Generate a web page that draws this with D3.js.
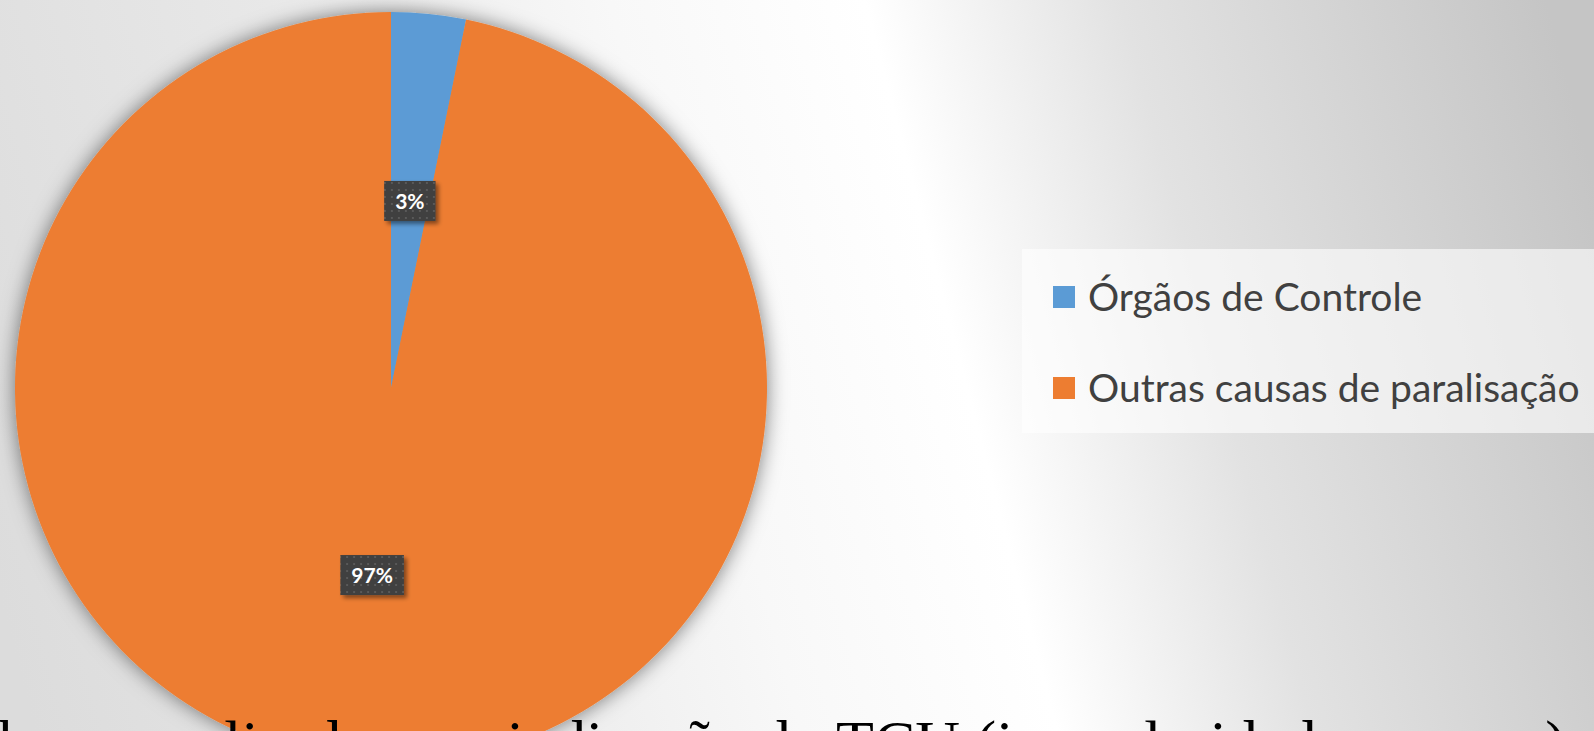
<!DOCTYPE html>
<html lang="pt">
<head>
    <meta charset="UTF-8">
    <script src="https://d3js.org/d3.v7.min.js"></script>
    <style>
        body { margin: 0; overflow: hidden; }
        svg { display: block; }
        .legenda { font-family: Lato, "Open Sans", sans-serif; fill: #404040; }
        .rotulo { font-family: Lato, "Open Sans", sans-serif; font-weight: bold; fill: #ffffff; }
        .titulo { font-family: "Liberation Serif", "DejaVu Serif", serif; fill: #000; }
    </style>
</head>
<body>
    <svg id="chart" width="1594" height="731"></svg>

    <script>
        // dados
        const categorias = ["Órgãos de Controle", "Outras causas de paralisação"];
        const valores = [3.2, 96.8];
        const cores = ["#5B9BD5", "#ED7D31"];
        const titulo = "Obras paralisadas por indicação do TCU (irregularidades graves)";

        const W = 1594, H = 731;
        const cx = 391, cy = 388, raio = 376;

        const svg = d3.select("#chart");
        const defs = svg.append("defs");

        // fundo em degradê
        const grad = defs.append("linearGradient")
            .attr("id", "fundo")
            .attr("gradientUnits", "userSpaceOnUse")
            .attr("x1", 0).attr("y1", 600)
            .attr("x2", W).attr("y2", 180);
        [[0, "#dcdcdc"], [0.25, "#e8e8e8"], [0.45, "#f8f8f8"], [0.6, "#ffffff"], [0.75, "#e2e2e2"], [1, "#c5c5c5"]]
            .forEach(([o, c]) => grad.append("stop").attr("offset", o).attr("stop-color", c));

        svg.append("rect").attr("width", W).attr("height", H).attr("fill", "url(#fundo)");

        // sombras
        const sombraPizza = defs.append("filter").attr("id", "sombraPizza")
            .attr("x", "-10%").attr("y", "-10%").attr("width", "120%").attr("height", "120%");
        sombraPizza.append("feDropShadow")
            .attr("dx", 0).attr("dy", 0).attr("stdDeviation", 10)
            .attr("flood-color", "#000").attr("flood-opacity", 0.5);

        const sombraRotulo = defs.append("filter").attr("id", "sombraRotulo")
            .attr("x", "-20%").attr("y", "-20%").attr("width", "150%").attr("height", "150%");
        sombraRotulo.append("feDropShadow")
            .attr("dx", 3).attr("dy", 3).attr("stdDeviation", 2)
            .attr("flood-color", "#000").attr("flood-opacity", 0.45);

        // padrão pontilhado dos rótulos
        const padrao = defs.append("pattern").attr("id", "pontos")
            .attr("width", 7).attr("height", 7).attr("patternUnits", "userSpaceOnUse");
        padrao.append("rect").attr("width", 7).attr("height", 7).attr("fill", "#3f3f3f");
        padrao.append("rect").attr("x", 2).attr("y", 2).attr("width", 2).attr("height", 2).attr("fill", "#5a5a5a");

        // pizza
        const pie = d3.pie().sort(null).value(d => d);
        const arcos = pie(valores);
        const total = d3.sum(valores);
        const arc = d3.arc().innerRadius(0).outerRadius(raio);
        const cor = d3.scaleOrdinal().domain(categorias).range(cores);

        const g = svg.append("g").attr("transform", `translate(${cx},${cy})`);

        g.append("g").attr("filter", "url(#sombraPizza)")
            .selectAll("path")
            .data(arcos)
            .enter().append("path")
            .attr("d", arc)
            .attr("fill", (d, i) => cor(categorias[i]));

        // rótulos de dados
        const fmt = d3.format(".0%");
        const rot = g.selectAll(".rot")
            .data(arcos)
            .enter().append("g")
            .attr("class", "rot")
            .attr("transform", d => `translate(${arc.centroid(d)})`);

        rot.each(function (d) {
            const el = d3.select(this);
            const txt = el.append("text")
                .attr("class", "rotulo")
                .attr("font-size", 21)
                .attr("text-anchor", "middle")
                .attr("dy", "0.36em")
                .text(fmt(d.value / total));
            const w = txt.node().getComputedTextLength() + 22;
            el.insert("rect", "text")
                .attr("x", -w / 2).attr("y", -20)
                .attr("width", w).attr("height", 40)
                .attr("fill", "url(#pontos)")
                .attr("filter", "url(#sombraRotulo)");
        });

        // legenda
        svg.append("rect")
            .attr("x", 1022).attr("y", 249)
            .attr("width", W - 1022).attr("height", 184)
            .attr("fill", "#ffffff").attr("fill-opacity", 0.6);

        const y = d3.scalePoint().domain(categorias).range([297, 388]);

        const leg = svg.selectAll(".leg")
            .data(categorias)
            .enter().append("g")
            .attr("class", "leg")
            .attr("transform", d => `translate(1053,${y(d)})`);

        leg.append("rect")
            .attr("y", -11).attr("width", 22).attr("height", 22)
            .attr("fill", d => cor(d));

        leg.append("text")
            .attr("class", "legenda")
            .attr("x", 35)
            .attr("dy", "0.36em")
            .attr("font-size", 39)
            .text(d => d);

        // título (cortado na borda inferior)
        svg.append("text")
            .attr("class", "titulo")
            .attr("x", 1566)
            .attr("y", 763)
            .attr("text-anchor", "end")
            .attr("font-size", 62)
            .text(titulo);
    </script>
</body>
</html>
